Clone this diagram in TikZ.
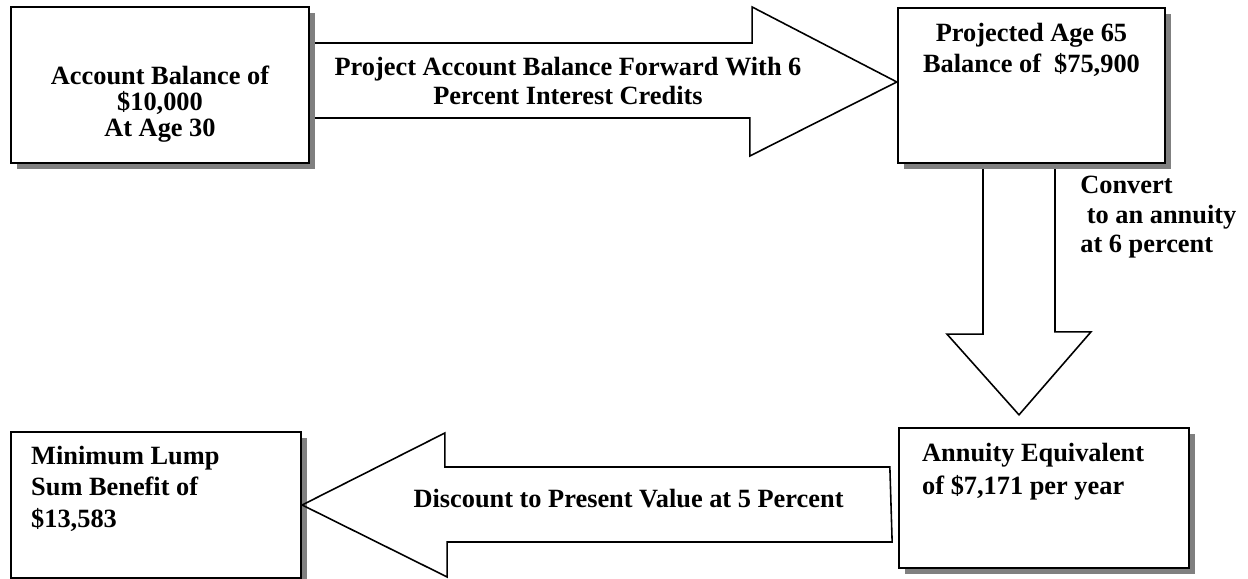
\documentclass[tikz,border=0pt]{standalone}
\usepackage{fontspec}
\setmainfont{Liberation Serif}
\usetikzlibrary{positioning,calc,shadows,backgrounds}

\tikzset{
    box/.style={draw=black, line width=1.3pt, fill=white,
        drop shadow={shadow xshift=0.12cm, shadow yshift=-0.12cm, fill=gray, opacity=1}},
    blockarrow/.style={draw=black, line width=0.9pt, line join=miter},
    lbl/.style={font={\fontsize{15pt}{#1}\selectfont\bfseries}, inner sep=0pt}
}

\begin{document}
\begin{tikzpicture}
    \useasboundingbox (0,0) rectangle (24.96,11.58);

    % Boxes
    \node[box, minimum width=5.96cm, minimum height=3.12cm] (acct) at (3.2,9.88) {};
    \node[box, minimum width=5.34cm, minimum height=3.10cm] (proj) at (20.63,9.87) {};
    \node[box, minimum width=5.80cm, minimum height=2.80cm] (annu) at (20.88,1.62) {};
    \node[box, minimum width=5.80cm, minimum height=2.92cm] (lump) at (3.12,1.48) {};

    % Box texts
    \node[lbl=14.8pt, align=center, below=1.20cm of acct.north] (accttxt) {Account Balance of\\ \$10,000\\ At Age 30};
    \node[lbl=17.6pt, align=center, below=0.32cm of proj.north] (projtxt) {Projected Age 65\\ Balance of\ \ \$75,900};
    \node[lbl=18.6pt, align=left, below right=0.32cm and 0.48cm of annu.north west] (annutxt) {Annuity Equivalent\\ of \$7,171 per year};
    \node[lbl=17.9pt, align=left, below right=0.30cm and 0.42cm of lump.north west] (lumptxt) {Minimum Lump\\ Sum Benefit of\\ \$13,583};

    % Block arrows
    \begin{pgfonlayer}{background}
        \draw[blockarrow] ($(acct.east)+(0,0.84)$) -- ++(8.84,0) -- ++(0,0.72) -- ($(proj.west)+(0,0.07)$)
            -- ++(-2.94,-1.48) -- ++(0,0.76) -- ($(acct.east)+(0,-0.66)$) -- cycle;
        \draw[blockarrow] ($(proj.south)+(-0.97,0)$) -- ++(0,-3.40) -- ++(-0.72,0) -- ($(annu.north)+(-0.50,0.24)$)
            -- ++(1.44,1.66) -- ++(-0.72,0) -- ++(0,3.40) -- cycle;
    \end{pgfonlayer}
    \draw[blockarrow] ($(annu.west)+(-0.16,0.62)$) -- ++(-8.90,0) -- ++(0,0.68) -- (lump.east)
        -- ++(2.90,-1.44) -- ++(0,0.70) -- ++(8.90,0) -- cycle;

    % Arrow texts
    \node[lbl=17pt, align=center] (fwdtxt) at (11.36,9.96) {Project Account Balance Forward With 6\\ Percent Interest Credits};
    \node[lbl=16.7pt, align=left, below right=0.24cm and 0.97cm of proj.south] (convtxt) {Convert\\ \ to an annuity\\ at 6 percent};
    \node[lbl=17pt, anchor=base] (disctxt) at (12.57,1.42) {Discount to Present Value at 5 Percent};
\end{tikzpicture}
\end{document}
